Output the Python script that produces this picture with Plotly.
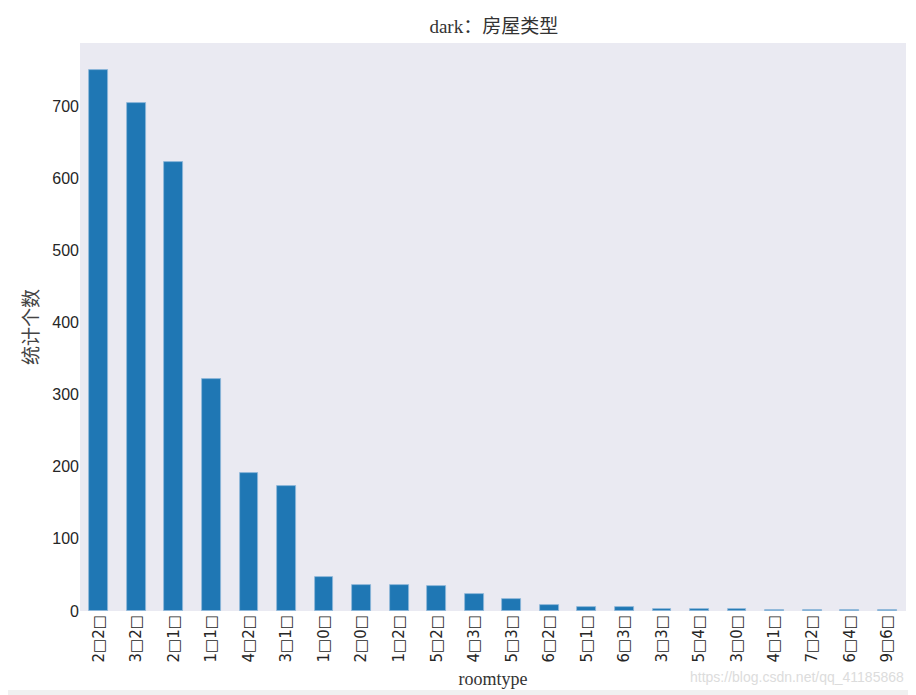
import plotly.graph_objects as go

room_types = [
    "2□2□", "3□2□", "2□1□", "1□1□", "4□2□", "3□1□", "1□0□", "2□0□",
    "1□2□", "5□2□", "4□3□", "5□3□", "6□2□", "5□1□", "6□3□", "3□3□",
    "5□4□", "3□0□", "4□1□", "7□2□", "6□4□", "9□6□",
]
counts = [750, 705, 622, 322, 192, 173, 47, 36, 36, 34, 24, 17, 8, 5, 5, 3, 3, 3, 1, 1, 1, 1]
y_ticks = [0, 100, 200, 300, 400, 500, 600, 700]

serif = "Liberation Serif, Noto Sans CJK SC, serif"
sans = "Liberation Sans, Arial, sans-serif"
box_font = "DejaVu Sans, sans-serif"

fig = go.Figure(
    data=[
        go.Bar(
            x=list(range(len(room_types))),
            y=counts,
            width=0.5,
            marker=dict(color="#1f77b4", line=dict(color="#8fb8da", width=0.8)),
        )
    ]
)

# the page body has an 8px margin, so the figure is a bit smaller than the window
fig.update_layout(
    width=908,
    height=687,
    margin=dict(l=72, r=10, t=35, b=84),
    paper_bgcolor="white",
    plot_bgcolor="#EAEAF2",
    showlegend=False,
    bargap=0,
    title=dict(
        text="dark：房屋类型",
        x=0.535, xanchor="center",
        y=0.973, yanchor="middle",
        font=dict(family=serif, size=19, color="#333333"),
    ),
    xaxis=dict(
        range=[-0.5, len(room_types) - 0.5],
        tickmode="array",
        tickvals=list(range(len(room_types))),
        ticktext=room_types,
        tickangle=-90,
        tickfont=dict(family=box_font, size=15, color="#262626"),
        showgrid=False,
        zeroline=False,
        showline=False,
        ticks="",
        automargin=False,
        title=dict(text="roomtype", font=dict(family=serif, size=18, color="#333333"), standoff=10),
    ),
    yaxis=dict(
        range=[0, 787.5],
        tickmode="array",
        tickvals=y_ticks,
        tickfont=dict(family=sans, size=16, color="#262626"),
        showgrid=False,
        zeroline=False,
        showline=False,
        ticks="",
        automargin=False,
        title=dict(text="统计个数", font=dict(family=serif, size=19, color="#444444"), standoff=8),
    ),
    annotations=[
        dict(
            text="https://blog.csdn.net/qq_41185868",
            xref="paper", yref="paper",
            x=1.0, y=-0.117,
            xanchor="right", yanchor="middle",
            showarrow=False,
            font=dict(family=sans, size=14, color="#dcdcdc"),
        )
    ],
    shapes=[
        dict(
            type="rect", xref="paper", yref="paper",
            x0=-0.1, x1=1.02, y0=-0.15, y1=-0.139,
            fillcolor="#f0f0f0", line=dict(width=0), layer="below",
        )
    ],
)

fig.write_html("out.html")
